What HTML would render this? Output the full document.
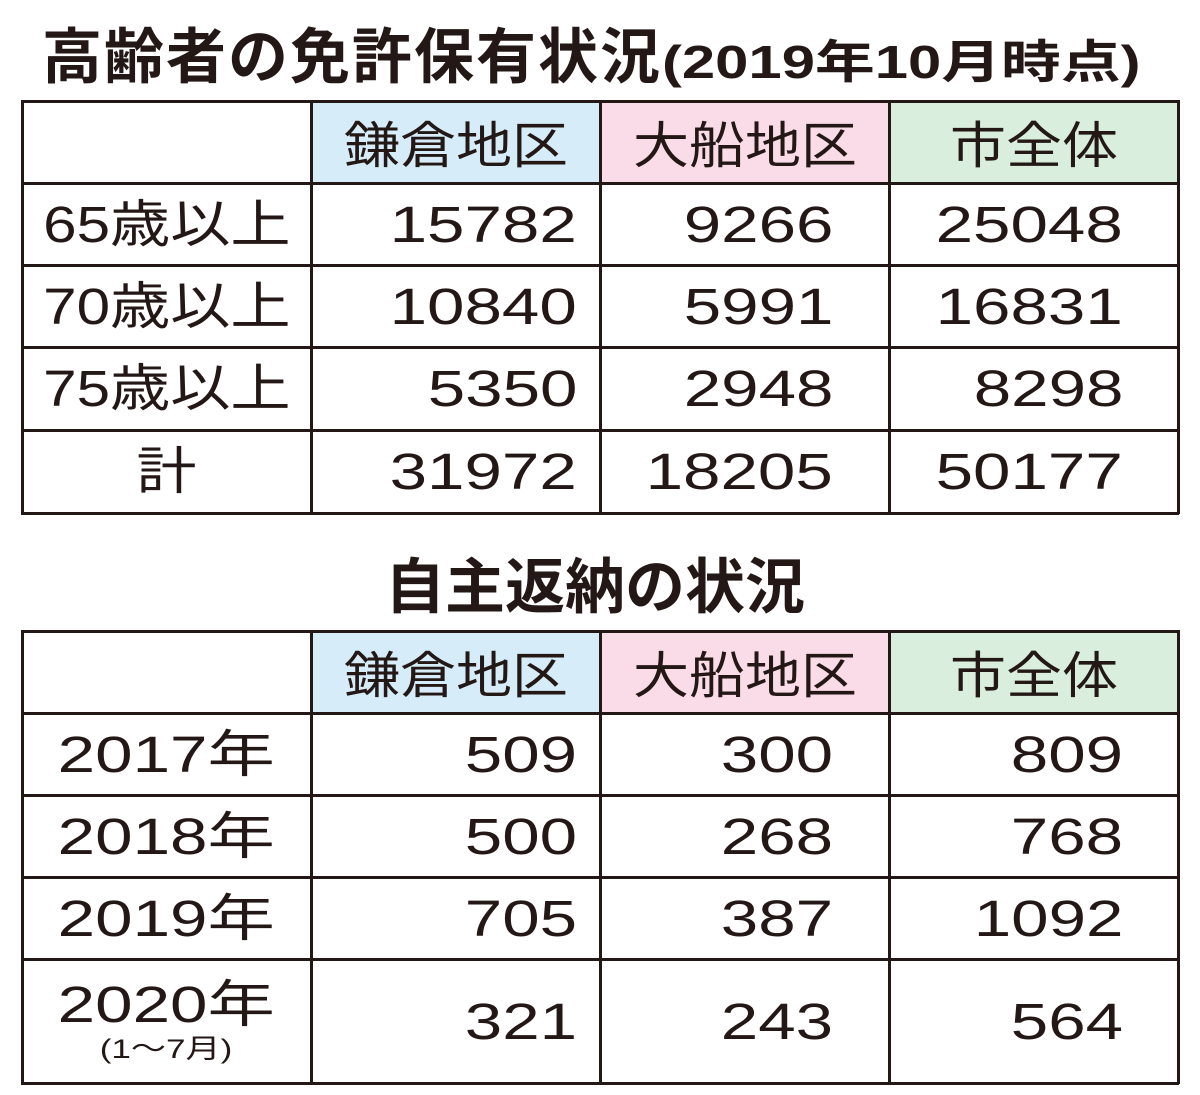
<!DOCTYPE html>
<html><head><meta charset="utf-8"><style>
body{margin:0;width:1200px;height:1095px;background:#fff;position:relative;overflow:hidden;font-family:"Liberation Sans","Noto Sans CJK JP",sans-serif;color:#231815}
.a{position:absolute;white-space:nowrap}
.t{font-weight:bold}
.c{position:absolute;box-sizing:border-box;display:flex;align-items:center;font-size:51px}
.c span{display:inline-block;white-space:nowrap}
.h{font-size:50px;justify-content:center}
.h span{transform:scaleX(1.12)}
.l{justify-content:center}
.r{justify-content:flex-end}
.r span{transform:scaleX(1.32);transform-origin:right center}
.line{position:absolute;background:#231815}
</style></head><body>
<div class="a t" style="left:42px;top:20px;font-size:60px;line-height:76px;letter-spacing:2px">高齢者の免許保有状況<span style="display:inline-block;font-size:46px;letter-spacing:0;font-weight:600;transform:scaleX(1.3);transform-origin:left center">(2019年10月時点)</span></div>
<div class="a t" style="left:385px;top:550px;font-size:60px;line-height:76px;letter-spacing:0px">自主返納の状況</div>
<script>
function table(top,rows,data,labels,ls){
 const xs=[22,311,600,889,1178];
 let ys=[top];for(let i=0;i<rows.length;i++)ys.push(ys[i]+rows[i]);
 let h='';
 const bg=['#d6ecf8','#f9dce7','#d9eedc'];
 const hd=['鎌倉地区','大船地区','市全体'];
 for(let j=0;j<3;j++)h+=`<div class="c h" style="left:${xs[j+1]}px;top:${ys[0]}px;width:${xs[j+2]-xs[j+1]}px;height:${rows[0]}px;background:${bg[j]}"><span>${hd[j]}</span></div>`;
 const pad=[23,56,55];
 for(let i=0;i<data.length;i++){
  h+=`<div class="c l" style="left:22px;top:${ys[i+1]}px;width:289px;height:${rows[i+1]}px;flex-direction:column;justify-content:center;line-height:1">${labels[i]}</div>`;
  for(let j=0;j<3;j++)h+=`<div class="c r" style="left:${xs[j+1]}px;top:${ys[i+1]}px;width:${xs[j+2]-xs[j+1]}px;height:${rows[i+1]}px;padding-right:${pad[j]}px"><span>${data[i][j]}</span></div>`;
 }
 for(const y of ys)h+=`<div class="line" style="left:21px;top:${y-1}px;width:1158px;height:2.5px"></div>`;
 for(const x of xs)h+=`<div class="line" style="left:${x-1}px;top:${ys[0]-1}px;width:2.5px;height:${ys[ys.length-1]-ys[0]+2}px"></div>`;
 document.body.insertAdjacentHTML('beforeend',h);
}
const L1=s=>`<span style="transform:scaleX(1.18)">${s}</span>`;
const L2=s=>`<span style="transform:scaleX(1.32)">${s}</span>`;
table(101,[82,82,82,83,83],[[15782,9266,25048],[10840,5991,16831],[5350,2948,8298],[31972,18205,50177]],[L1('65歳以上'),L1('70歳以上'),L1('75歳以上'),L1('計')]);
table(631,[82,82,82,82,124],[[509,300,809],[500,268,768],[705,387,1092],[321,243,564]],[L2('2017年'),L2('2018年'),L2('2019年'),L2('2020年')+'<span style="font-size:27px;margin-top:6px;transform:scaleX(1.3)">(1～7月)</span>']);
</script>
</body></html>
